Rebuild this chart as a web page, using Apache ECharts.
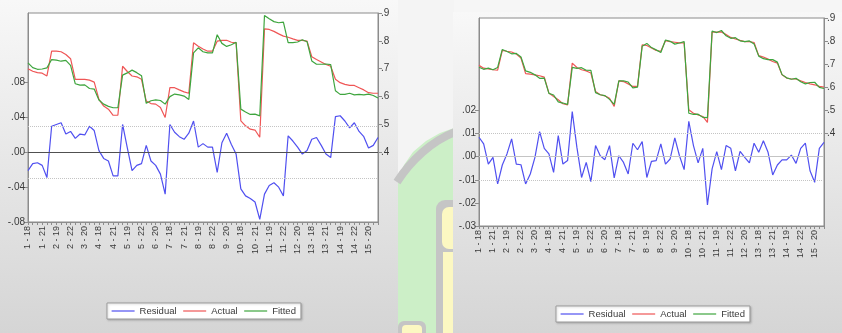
<!DOCTYPE html>
<html>
<head>
<meta charset="utf-8">
<title>Residual / Actual / Fitted</title>
<script src="https://cdn.jsdelivr.net/npm/echarts@6/dist/echarts.min.js"></script>
<style>
  html, body { margin: 0; padding: 0; background: #f6f6f6; }
  #chart { width: 842px; height: 333px; }
</style>
</head>
<body>
<div id="chart"></div>
<script>
// Panel identifiers: cross-section number and year suffix
const sections = [1, 2, 3, 4, 5, 6, 7, 8, 9, 10, 11, 12, 13, 14, 15];
const years = [18, 19, 20, 21, 22];

// ---- Model A (left panel) ----
const residualA = [
  -0.021, -0.013, -0.012, -0.015, -0.029,
   0.030,  0.032,  0.034,  0.021,  0.024,
   0.016,  0.021,  0.020,  0.030,  0.025,
   0.002, -0.007, -0.010, -0.027, -0.027,
   0.032,  0.005, -0.021, -0.015, -0.013,
   0.008, -0.010, -0.015, -0.025, -0.048,
   0.032,  0.023,  0.018,  0.015,  0.022,
   0.036,  0.006,  0.010,  0.006,  0.006,
  -0.023,  0.011,  0.022,  0.009, -0.002,
  -0.042, -0.050, -0.053, -0.057, -0.077,
  -0.048, -0.038, -0.035, -0.040, -0.050,
   0.019,  0.013,  0.006, -0.002,  0.002,
   0.015,  0.017,  0.008, -0.002, -0.006,
   0.041,  0.042,  0.036,  0.028,  0.034,
   0.024,  0.018,  0.005,  0.008,  0.017
];
const actualA = [
  0.700, 0.691, 0.686, 0.684, 0.674,
  0.763, 0.763, 0.761, 0.751, 0.736,
  0.662, 0.662, 0.662, 0.659, 0.652,
  0.590, 0.566, 0.555, 0.533, 0.533,
  0.709, 0.690, 0.674, 0.671, 0.662,
  0.584, 0.575, 0.573, 0.561, 0.525,
  0.632, 0.632, 0.624, 0.617, 0.612,
  0.793, 0.781, 0.771, 0.763, 0.763,
  0.799, 0.802, 0.802, 0.795, 0.793,
  0.513, 0.495, 0.483, 0.480, 0.454,
  0.843, 0.841, 0.834, 0.825, 0.817,
  0.813, 0.807, 0.802, 0.802, 0.799,
  0.743, 0.733, 0.724, 0.715, 0.709,
  0.662, 0.650, 0.644, 0.640, 0.640,
  0.632, 0.624, 0.614, 0.612, 0.612
];
const fittedA = [
  0.721, 0.704, 0.698, 0.699, 0.703,
  0.733, 0.731, 0.727, 0.730, 0.712,
  0.646, 0.641, 0.642, 0.629, 0.627,
  0.588, 0.573, 0.565, 0.560, 0.560,
  0.677, 0.685, 0.695, 0.686, 0.675,
  0.576, 0.585, 0.588, 0.586, 0.573,
  0.600, 0.609, 0.606, 0.602, 0.590,
  0.757, 0.775, 0.761, 0.757, 0.757,
  0.822, 0.791, 0.780, 0.786, 0.795,
  0.555, 0.545, 0.536, 0.537, 0.531,
  0.891, 0.879, 0.869, 0.865, 0.867,
  0.794, 0.794, 0.796, 0.804, 0.797,
  0.728, 0.716, 0.716, 0.717, 0.715,
  0.621, 0.608, 0.608, 0.612, 0.606,
  0.608, 0.606, 0.609, 0.604, 0.595
];
const seA = 0.028;
const residTicksA = [-0.08, -0.04, 0, 0.04, 0.08];
const levelTicksA = [0.4, 0.5, 0.6, 0.7, 0.8, 0.9];

// ---- Model B (right panel) ----
const residualB = [
   0.0084,  0.0055, -0.0032, -0.0003, -0.0118,
  -0.0036,  0.0012,  0.0077, -0.0032, -0.0035,
  -0.0118, -0.0075, -0.0003,  0.0108,  0.0036,
   0.0012, -0.0068,  0.0091, -0.0032, -0.0017,
   0.0195,  0.0040, -0.0090, -0.0025, -0.0108,
   0.0048,  0.0004, -0.0013,  0.0048, -0.0092,
   0.0004, -0.0025, -0.0075,  0.0058,  0.0030,
   0.0065, -0.0090, -0.0020, -0.0017,  0.0055,
  -0.0032, -0.0010,  0.0081,  0.0004, -0.0056,
   0.0153,  0.0048, -0.0027,  0.0036, -0.0209,
  -0.0053,  0.0022, -0.0056,  0.0048,  0.0036,
  -0.0061,  0.0023, -0.0003, -0.0027,  0.0058,
   0.0019,  0.0069,  0.0019, -0.0079, -0.0036,
  -0.0014, -0.0014,  0.0007, -0.0029,  0.0036,
   0.0059, -0.0061, -0.0111,  0.0036,  0.0062
];
const actualB = [
  0.695, 0.683, 0.680, 0.676, 0.674,
  0.760, 0.756, 0.753, 0.744, 0.727,
  0.659, 0.657, 0.654, 0.650, 0.644,
  0.575, 0.560, 0.546, 0.529, 0.524,
  0.705, 0.686, 0.676, 0.671, 0.662,
  0.582, 0.568, 0.563, 0.553, 0.517,
  0.628, 0.625, 0.615, 0.604, 0.604,
  0.784, 0.781, 0.770, 0.760, 0.756,
  0.802, 0.798, 0.795, 0.792, 0.792,
  0.503, 0.488, 0.481, 0.474, 0.448,
  0.839, 0.839, 0.840, 0.828, 0.816,
  0.809, 0.803, 0.798, 0.798, 0.794,
  0.737, 0.731, 0.722, 0.712, 0.705,
  0.654, 0.640, 0.636, 0.636, 0.628,
  0.621, 0.615, 0.611, 0.604, 0.601
];
const fittedB = [
  0.687, 0.678, 0.683, 0.676, 0.686,
  0.764, 0.755, 0.745, 0.747, 0.731,
  0.671, 0.665, 0.654, 0.639, 0.640,
  0.574, 0.567, 0.537, 0.532, 0.526,
  0.686, 0.682, 0.685, 0.674, 0.673,
  0.577, 0.568, 0.564, 0.548, 0.526,
  0.628, 0.628, 0.623, 0.598, 0.601,
  0.778, 0.790, 0.772, 0.762, 0.751,
  0.805, 0.799, 0.787, 0.792, 0.798,
  0.488, 0.483, 0.484, 0.470, 0.469,
  0.844, 0.837, 0.846, 0.823, 0.812,
  0.815, 0.801, 0.798, 0.801, 0.788,
  0.735, 0.724, 0.720, 0.720, 0.709,
  0.655, 0.641, 0.635, 0.639, 0.624,
  0.615, 0.621, 0.622, 0.600, 0.595
];
const seB = 0.0078;
const residTicksB = [-0.03, -0.02, -0.01, 0, 0.01, 0.02];
const levelTicksB = [0.4, 0.5, 0.6, 0.7, 0.8, 0.9];

const seriesNames = ['Residual', 'Actual', 'Fitted'];

// Category labels such as "1 - 18"
const categories = [];
sections.forEach(s => years.forEach(y => categories.push(s + ' - ' + y)));

const FONT = '"Liberation Sans", Arial, sans-serif';
const AXIS_GRAY = '#8c8c8c';
const TEXT = '#3a3a3a';
const BLUE = '#5050f0';
const RED = '#ef5656';
const GREEN = '#3ea53e';

// EViews style numbers: ".08", "-.04", ".9"
function decimals(d) {
  return function (v) {
    const s = Math.abs(v).toFixed(d).replace(/^0/, '');
    return (v < -1e-9 ? '-' : '') + s;
  };
}

function catAxis(gridIndex) {
  return {
    type: 'category', gridIndex: gridIndex, data: categories, boundaryGap: false,
    axisLine: { show: true, onZero: false, lineStyle: { color: AXIS_GRAY, width: 1 } },
    axisTick: { show: true, interval: 0, length: 3, lineStyle: { color: AXIS_GRAY } },
    axisLabel: { interval: 2, rotate: 90, fontSize: 9, color: TEXT, fontFamily: FONT, margin: 4 },
    splitLine: { show: false }
  };
}

function valAxis(gridIndex, position, min, max, ticks, d) {
  return {
    type: 'value', gridIndex: gridIndex, position: position, min: min, max: max, scale: true,
    axisLine: { show: true, lineStyle: { color: AXIS_GRAY, width: 1 } },
    axisTick: { show: true, length: 4, customValues: ticks, lineStyle: { color: AXIS_GRAY } },
    axisLabel: { customValues: ticks, formatter: decimals(d), fontSize: 10, color: TEXT, fontFamily: FONT, margin: 3 },
    splitLine: { show: false }
  };
}

function refLines(se, zeroColor) {
  return {
    silent: true, symbol: 'none', label: { show: false },
    data: [
      { yAxis: 0, lineStyle: { color: zeroColor, type: 'solid', width: 1 } },
      { yAxis: se, lineStyle: { color: '#c4c4c4', type: 'dotted', width: 1 } },
      { yAxis: -se, lineStyle: { color: '#c4c4c4', type: 'dotted', width: 1 } }
    ]
  };
}

function lineSeries(name, xi, yi, data, color, extra) {
  return Object.assign({
    name: name, type: 'line', xAxisIndex: xi, yAxisIndex: yi, data: data,
    symbol: 'none', showSymbol: false, smooth: false,
    lineStyle: { color: color, width: 1.2 }, itemStyle: { color: color },
    emphasis: { disabled: true }
  }, extra || {});
}

function legendAt(left, top) {
  return {
    data: seriesNames, left: left, top: top, orient: 'horizontal',
    backgroundColor: '#ffffff', borderColor: '#9a9a9a', borderWidth: 1,
    padding: [3, 5, 3, 4], itemGap: 6, itemWidth: 23, itemHeight: 8,
    itemStyle: { opacity: 0, borderWidth: 0 },
    lineStyle: { width: 1.2 },
    shadowColor: 'rgba(0,0,0,0.18)', shadowBlur: 2, shadowOffsetX: 1, shadowOffsetY: 1,
    textStyle: { fontSize: 9.5, color: TEXT, fontFamily: FONT },
    selectedMode: false
  };
}

function panelFill() {
  return new echarts.graphic.LinearGradient(0, 0, 0, 1, [
    { offset: 0, color: '#f8f8f8' }, { offset: 1, color: '#d5d5d5' }
  ]);
}
const YELLOW = '#fcf8c2';
const ROAD = '#c5c5c5';

const option = {
  backgroundColor: '#f6f6f6',
  animation: false,
  graphic: {
    elements: [
      // left panel backdrop
      { type: 'rect', z: -20, shape: { x: 0, y: 0, width: 398, height: 333 }, style: { fill: panelFill() } },
      // strip between the two panels
      { type: 'rect', z: -20, shape: { x: 398, y: 0, width: 56, height: 333 }, style: { fill: '#ccefc7' } },
      { type: 'polygon', z: -19, shape: { points: [[398, 0], [454, 0], [454, 128], [440, 133], [426, 141], [413, 152], [404, 165], [398, 178]] }, style: { fill: '#f4f4f4' } },
      { type: 'bezierCurve', z: -18, shape: { x1: 397, y1: 182, cpx1: 411, cpy1: 160, cpx2: 432, cpy2: 141, x2: 455, y2: 132 }, style: { fill: null, stroke: ROAD, lineWidth: 8 } },
      { type: 'rect', z: -18, shape: { x: 436, y: 200, width: 20, height: 133, r: [9, 0, 0, 0] }, style: { fill: ROAD } },
      { type: 'rect', z: -17, shape: { x: 442, y: 207, width: 14, height: 42, r: [7, 0, 0, 7] }, style: { fill: YELLOW } },
      { type: 'rect', z: -17, shape: { x: 443, y: 252, width: 13, height: 81 }, style: { fill: YELLOW } },
      { type: 'rect', z: -18, shape: { x: 398, y: 321, width: 28, height: 20, r: 6 }, style: { fill: ROAD } },
      { type: 'rect', z: -17, shape: { x: 402, y: 325, width: 20, height: 12, r: 4 }, style: { fill: YELLOW } },
      // right panel backdrop
      { type: 'rect', z: -16, shape: { x: 453, y: 12, width: 389, height: 321 }, style: { fill: panelFill() } }
    ]
  },
  legend: [legendAt(107, 303), legendAt(556, 306)],
  grid: [
    { left: 28, top: 13, width: 350, height: 209, show: true, backgroundColor: '#ffffff', borderColor: AXIS_GRAY, borderWidth: 1, outerBoundsMode: 'none' },
    { left: 479, top: 18, width: 345, height: 208, show: true, backgroundColor: '#ffffff', borderColor: AXIS_GRAY, borderWidth: 1, outerBoundsMode: 'none' }
  ],
  xAxis: [catAxis(0), catAxis(1)],
  yAxis: [
    valAxis(0, 'left', -0.08, 0.16, residTicksA, 2),
    valAxis(0, 'right', 0.15, 0.9, levelTicksA, 1),
    valAxis(1, 'left', -0.03, 0.06, residTicksB, 2),
    valAxis(1, 'right', 0, 0.9, levelTicksB, 1)
  ],
  series: [
    lineSeries('Residual', 0, 0, residualA, BLUE, { markLine: refLines(seA, '#505050') }),
    lineSeries('Actual', 0, 1, actualA, RED),
    lineSeries('Fitted', 0, 1, fittedA, GREEN),
    lineSeries('Residual', 1, 2, residualB, BLUE, { markLine: refLines(seB, '#c4c4c4') }),
    lineSeries('Actual', 1, 3, actualB, RED),
    lineSeries('Fitted', 1, 3, fittedB, GREEN)
  ]
};

const chart = echarts.init(document.getElementById('chart'), null, { renderer: 'canvas' });
chart.setOption(option);
</script>
</body>
</html>
